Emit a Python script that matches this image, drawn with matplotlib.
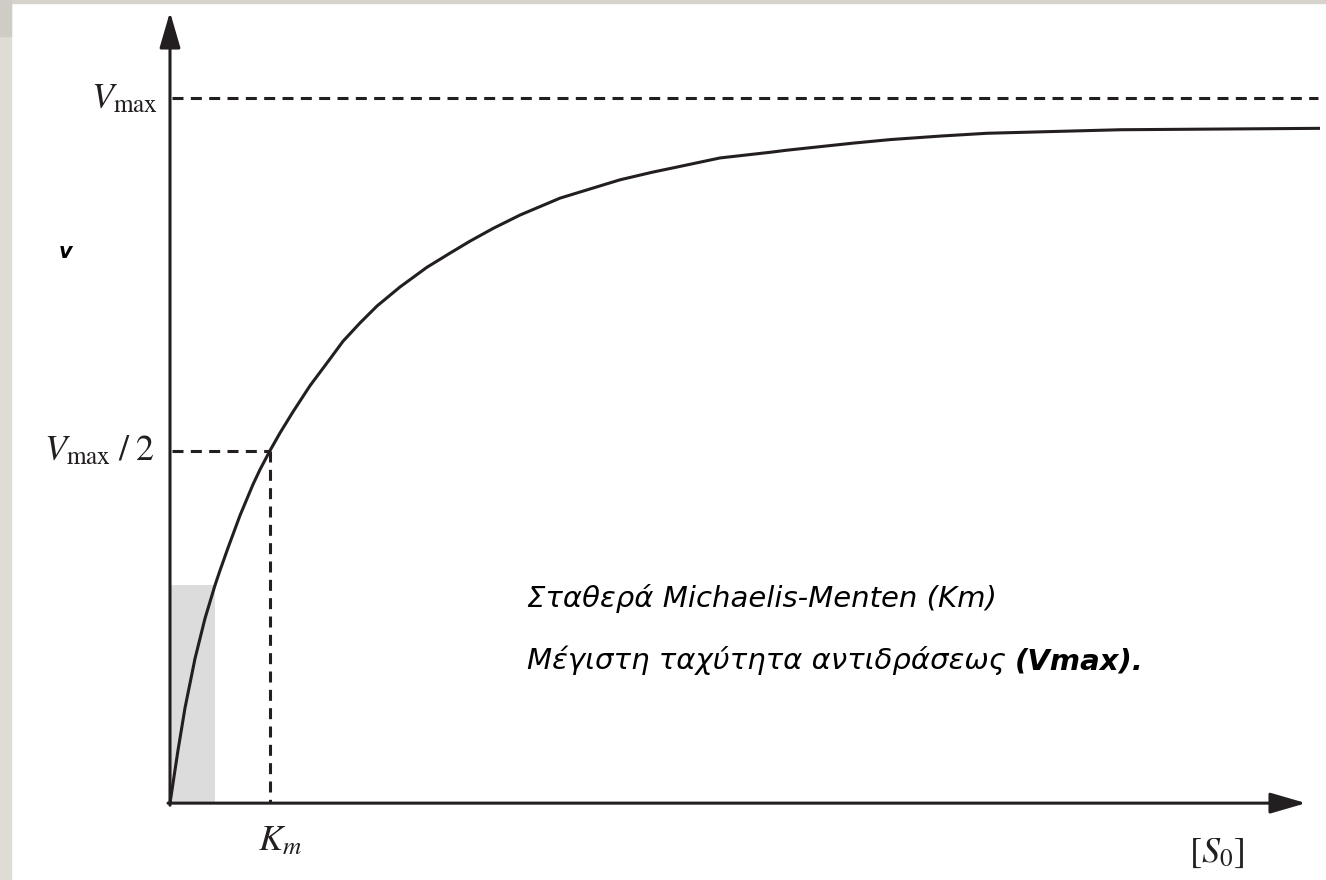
import matplotlib
matplotlib.use("Agg")
import matplotlib.pyplot as plt
from matplotlib.patches import Rectangle

plt.rcParams['mathtext.fontset'] = 'stix'

# substrate concentration (in units of Km) and rate (in units of Vmax)
s_vals = [0, 0.08, 0.15, 0.25, 0.35, 0.45, 0.50, 0.58, 0.70, 0.83, 0.90, 1.0, 1.10,
          1.23, 1.40, 1.60, 1.73, 1.90, 2.07, 2.30, 2.57, 2.80, 3.00, 3.23, 3.50,
          3.90, 4.50, 4.83, 5.00, 5.50, 6.00, 6.17, 6.83, 7.20, 7.70, 8.17, 8.70,
          9.50, 10.50, 11.50]
v_vals = [0, 0.075, 0.135, 0.205, 0.262, 0.309, 0.330, 0.362, 0.408, 0.452, 0.473, 0.50, 0.525,
          0.555, 0.592, 0.630, 0.655, 0.681, 0.705, 0.732, 0.760, 0.780, 0.797, 0.815, 0.834,
          0.858, 0.884, 0.895, 0.900, 0.915, 0.923, 0.926, 0.936, 0.941, 0.946, 0.950, 0.952,
          0.955, 0.956, 0.957]

vmax = 1.0
km = 1.0
v_half = 0.5
s_initial = 0.45
v_initial = 0.309

line1 = 'Σταθερά Michaelis-Menten (Km)'
line2 = 'Μέγιστη ταχύτητα αντιδράσεως '
line2_bold = '(Vmax).'

ink = '#231f20'
lw = 2.2

fig = plt.figure(figsize=(13.26, 8.8), dpi=100)
fig.patch.set_facecolor('white')

# slide background strips
fig.add_artist(Rectangle((0, 0), 11 / 1326, 1, transform=fig.transFigure,
                         color='#dfdcd6', zorder=0))
fig.add_artist(Rectangle((0, 1 - 3 / 880), 1, 3 / 880, transform=fig.transFigure,
                         color='#d6d3cd', zorder=0))
fig.add_artist(Rectangle((0, 1 - 36 / 880), 11 / 1326, 36 / 880, transform=fig.transFigure,
                         color='#cfccc6', zorder=0))

ax = fig.add_axes([0, 0, 1, 1])
ax.set_xlim(-1.70, 11.56)
ax.set_ylim(-0.109, 1.139)
ax.axis('off')

# initial-rate region
ax.add_patch(Rectangle((0, 0), s_initial, v_initial, color='#dcdcdc', lw=0, zorder=1))

# axes with arrow heads
arrow = dict(arrowstyle='-|>,head_length=1.1,head_width=0.32', mutation_scale=20,
             lw=lw, color=ink, shrinkA=0, shrinkB=0)
ax.annotate('', xy=(0, 1.122), xytext=(0, -0.003), arrowprops=arrow, zorder=4)
ax.annotate('', xy=(11.36, 0), xytext=(-0.02, 0), arrowprops=arrow, zorder=4)

# guide lines
dash = (0, (3.6, 2.4))
ax.plot([0.02, 11.48], [vmax, vmax], color=ink, lw=lw, ls=dash)
ax.plot([0.02, km], [v_half, v_half], color=ink, lw=lw, ls=dash)
ax.plot([km, km], [v_half, 0], color=ink, lw=lw, ls=dash)

# saturation curve
ax.plot(s_vals, v_vals, color=ink, lw=lw, solid_capstyle='butt',
        solid_joinstyle='round', zorder=3)

# axis labels
ax.text(-0.12, vmax, r'$V_{\mathrm{max}}$', ha='right', va='center', fontsize=26, color=ink)
ax.text(-0.15, v_half, r'$V_{\mathrm{max}}\;/\;2$', ha='right', va='center', fontsize=26, color=ink)
ax.text(0.88, -0.052, r'$K_m$', ha='left', va='center', fontsize=26, color=ink)
ax.text(10.47, -0.071, r'$[S_0]$', ha='center', va='center', fontsize=26, color=ink)
ax.text(-1.04, 0.782, 'v', ha='center', va='center', fontsize=15,
        fontweight='bold', style='italic', family='DejaVu Sans', color='black')

# annotation text
ax.text(3.57, 0.278, line1, ha='left', va='baseline', fontsize=21,
        style='italic', family='DejaVu Sans', color='black')
t2 = ax.text(3.57, 0.190, line2, ha='left', va='baseline', fontsize=21,
             style='italic', family='DejaVu Sans', color='black')
ax.annotate(line2_bold, xy=(1, 0), xycoords=t2, ha='left', va='bottom', fontsize=21,
            style='italic', fontweight='bold', family='DejaVu Sans', color='black')

fig.savefig('out.png', dpi=100)
